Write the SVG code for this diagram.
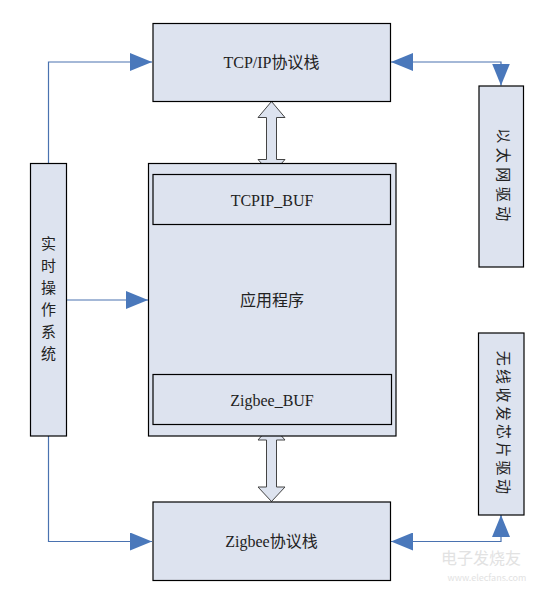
<svg xmlns="http://www.w3.org/2000/svg" width="544" height="592" viewBox="0 0 544 592">
<style>
.box{fill:#dde3ef;stroke:#000;stroke-width:1.2}
.t{font-family:"Liberation Serif","Noto Sans CJK SC",serif;font-size:16px;fill:#222;text-anchor:middle;dominant-baseline:central}
.v{font-family:"Liberation Serif","Noto Sans CJK SC",serif;font-size:15px;fill:#222;text-anchor:middle;dominant-baseline:central}
.c{fill:none;stroke:#4a72b0;stroke-width:1.2}
.dbl{fill:#dde3ef;stroke:#444;stroke-width:1}
.wm{font-family:"Noto Sans CJK SC",sans-serif;fill:#e2e2e2;text-anchor:middle}
</style>
<defs>
<marker id="ah" markerUnits="userSpaceOnUse" markerWidth="22" markerHeight="18" refX="22" refY="9" orient="auto-start-reverse" viewBox="0 0 22 18">
<path d="M0,0 L22,9 L0,18 Z" fill="#4a78bb"/>
</marker>
</defs>
<rect width="544" height="592" fill="#fff"/>
<g id="connectors">
<path class="c" d="M48.5,163 V62 H152" marker-end="url(#ah)"/>
<path class="c" d="M66,300 H148" marker-end="url(#ah)"/>
<path class="c" d="M48.5,436 V541.5 H152" marker-end="url(#ah)"/>
<path class="c" d="M391,62 H501 V85.5" marker-start="url(#ah)" marker-end="url(#ah)"/>
<path class="c" d="M391,541.5 H501 V515" marker-start="url(#ah)" marker-end="url(#ah)"/>
<polygon class="dbl" points="271.5,101.5 258,117.5 266.5,117.5 266.5,159.5 258,159.5 271.5,174.5 285,159.5 276.5,159.5 276.5,117.5 285,117.5"/>
<polygon class="dbl" points="271.5,424.5 258,440 266.5,440 266.5,487 258,487 271.5,501.5 285,487 276.5,487 276.5,440 285,440"/>
</g>
<g id="tcpip">
<rect class="box" x="153" y="23.5" width="237.5" height="78"/>
<text class="t" x="271.5" y="62">TCP/IP协议栈</text>
</g>
<g id="os">
<rect class="box" x="30.5" y="163.5" width="36" height="272.5"/>
<text class="v" x="48.5" y="244"><tspan x="48.5" y="244">实</tspan><tspan x="48.5" y="266">时</tspan><tspan x="48.5" y="288">操</tspan><tspan x="48.5" y="310">作</tspan><tspan x="48.5" y="332">系</tspan><tspan x="48.5" y="354">统</tspan></text>
</g>
<g id="app">
<rect class="box" x="148.5" y="163.5" width="247.5" height="272.5"/>
<text class="t" x="272" y="300">应用程序</text>
</g>
<g id="tcpip_buf">
<rect class="box" x="153" y="174.5" width="237.5" height="50"/>
<text class="t" x="272" y="200">TCPIP_BUF</text>
</g>
<g id="zigbee_buf">
<rect class="box" x="153" y="374.5" width="238.5" height="50"/>
<text class="t" x="272" y="400">Zigbee_BUF</text>
</g>
<g id="zigbee">
<rect class="box" x="153" y="502" width="237.5" height="78.5"/>
<text class="t" x="271.5" y="541.5">Zigbee协议栈</text>
</g>
<g id="eth">
<rect class="box" x="479" y="86" width="44.5" height="181"/>
<text class="v" transform="translate(503,177) rotate(90)" letter-spacing="4.5">以太网驱动</text>
</g>
<g id="wireless">
<rect class="box" x="478.5" y="333" width="45.5" height="182"/>
<text class="v" transform="translate(503,424) rotate(90)" letter-spacing="3.3">无线收发芯片驱动</text>
</g>
<g id="watermark">
<text class="wm" x="481" y="564" font-size="16">电子发烧友</text>
<text class="wm" x="487" y="581" font-size="9" font-family="Liberation Sans,sans-serif">www.elecfans.com</text>
</g>
</svg>
